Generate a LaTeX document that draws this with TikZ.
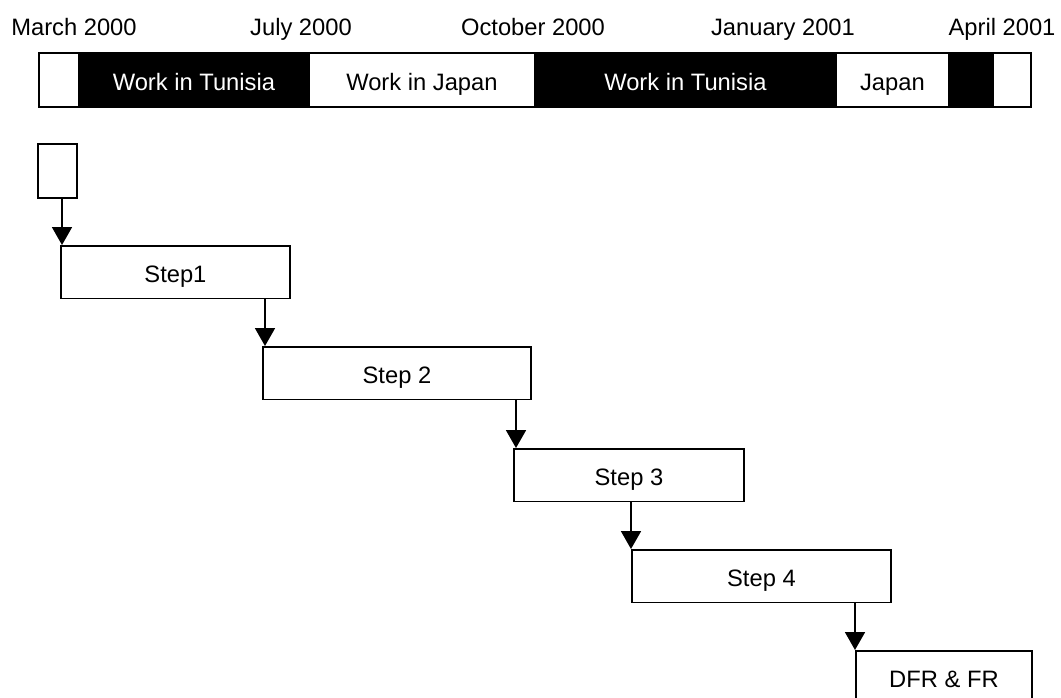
\documentclass[tikz,border=0pt]{standalone}
\usepackage{fontspec}
\setmainfont{Liberation Sans}
\usetikzlibrary{arrows.meta}
\begin{document}
\begin{tikzpicture}[x=0.75pt,y=-0.75pt,
  every node/.style={font=\fontsize{17.8}{21}\selectfont},
  lbl/.style={anchor=base, inner sep=0pt},
  seg/.style={draw=black, line width=1.4pt, fill=white, inner sep=0pt,
    minimum height=40.5pt, anchor=west, text height=16pt, text depth=0pt},
  darkseg/.style={seg, fill=black, text=white},
  stepbox/.style={draw=black, line width=1.4pt, fill=white, inner sep=0pt,
    minimum height=39.4pt, anchor=north west, text height=16pt, text depth=0pt},
  arr/.style={-{Triangle[width=15pt,length=13.5pt]}, line width=1.4pt}
]
\useasboundingbox (0,0) rectangle (1061,697);
\clip (0,0) rectangle (1061,697);

% month labels
\node[lbl] (m1) at (74,35)   {March 2000};
\node[lbl] (m2) at (301,35)  {July 2000};
\node[lbl] (m3) at (533,35)  {October 2000};
\node[lbl] (m4) at (783,35)  {January 2001};
\node[lbl] (m5) at (1002,35) {April 2001};

% timeline bar
\node[seg, minimum width=30pt]         (t1) at (38,80)  {};
\node[darkseg, minimum width=172.5pt]  (t2) at (78,80)  {Work in Tunisia};
\node[seg, minimum width=169.5pt]      (t3) at (308,80) {Work in Japan};
\node[darkseg, minimum width=225.75pt] (t4) at (534,80) {Work in Tunisia};
\node[seg, minimum width=84.75pt]      (t5) at (835,80) {Japan};
\node[darkseg, minimum width=33pt]     (t6) at (948,80) {};
\node[seg, minimum width=28.5pt]       (t7) at (992,80) {};

% step boxes
\node[stepbox, minimum width=29.25pt, minimum height=40.5pt] (s0) at (37,143) {};
\node[stepbox, minimum width=171.75pt] (s1) at (60,245)  {Step1};
\node[stepbox, minimum width=201pt]    (s2) at (262,346) {Step 2};
\node[stepbox, minimum width=172.5pt]  (s3) at (513,448) {Step 3};
\node[stepbox, minimum width=194.25pt] (s4) at (631,549) {Step 4};
\node[stepbox, minimum width=132pt]    (s5) at (855,650) {DFR \& FR};

% arrow columns
\coordinate (c0) at (62,0);
\coordinate (c1) at (265,0);
\coordinate (c2) at (516,0);
\coordinate (c3) at (631,0);
\coordinate (c4) at (855,0);

\draw[arr] (s0.south -| c0) -- (s1.north -| c0);
\draw[arr] (s1.south -| c1) -- (s2.north -| c1);
\draw[arr] (s2.south -| c2) -- (s3.north -| c2);
\draw[arr] (s3.south -| c3) -- (s4.north -| c3);
\draw[arr] (s4.south -| c4) -- (s5.north -| c4);
\end{tikzpicture}
\end{document}
